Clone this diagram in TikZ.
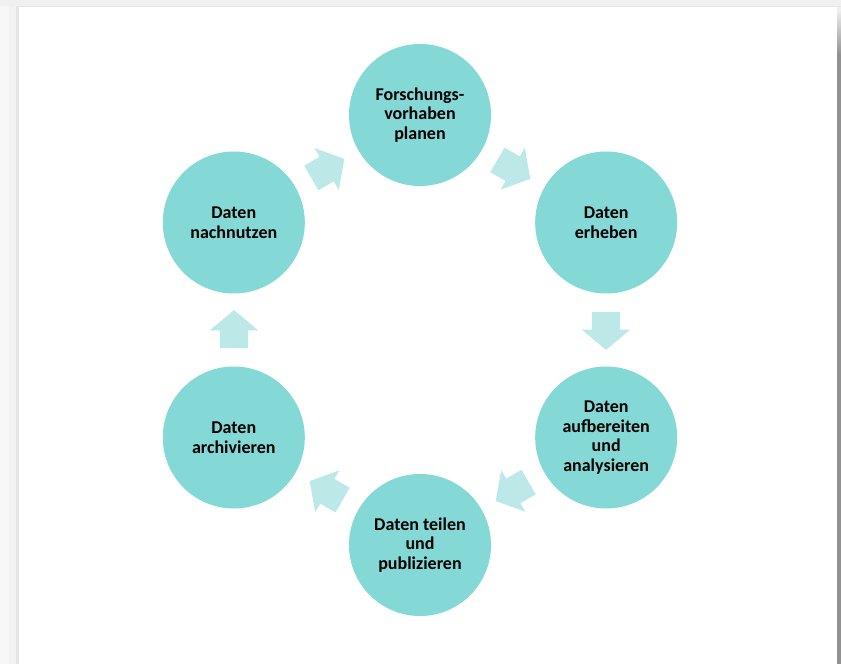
\documentclass[tikz,border=0pt]{standalone}
\usepackage{fontspec}
\setmainfont{Carlito}
\usetikzlibrary{shapes.arrows}
\definecolor{phasecol}{HTML}{84D8D5}
\definecolor{flowcol}{HTML}{BDE8E8}

\begin{document}
\begin{tikzpicture}[x=1pt,y=1pt,
  phase/.style={circle,fill=phasecol,minimum size=142pt,inner sep=0pt,align=center,
    font=\fontsize{18}{19.7}\selectfont\bfseries},
  flow/.style={single arrow,fill=flowcol,minimum height=38pt,inner xsep=0pt,inner ysep=14pt,
    single arrow head extend=10pt,single arrow tip angle=100}]
  % page with its shadow
  \useasboundingbox (-420,-334) rectangle (421,330);
  \fill[black!6] (-420,-334) rectangle (421,330);
  \fill[black!3] (-420,-334) rectangle (-411,324);
  \fill[black!5] (-411,-334) rectangle (-404,324);
  \fill[black!10] (-404,-334) rectangle (-401,324);
  \fill[black!10] (-401,324) rectangle (421,323);
  \fill[white] (-401,-334) rectangle (417,323);
  \shade[top color=black!8,bottom color=black!43] (417,318) rectangle (421,275);
  \fill[black!43] (417,275) rectangle (421,-334);

  % phases
  \node[phase] (plan) at (90:215) {Forschungs-\\vorhaben\\planen};
  \node[phase] (erheben) at (30:215) {Daten\\erheben};
  \node[phase] (aufbereiten) at (-30:215) {Daten\\aufbereiten\\und\\analysieren};
  \node[phase] (teilen) at (-90:215) {Daten teilen\\und\\publizieren};
  \node[phase] (archiv) at (-150:215) {Daten\\archivieren};
  \node[phase] (nachnutzen) at (150:215) {Daten\\nachnutzen};

  % block arrows between them
  \node[flow,rotate=-30,xshift=-5pt] (f1) at (60:186) {};
  \node[flow,rotate=-90,xshift=-5pt] (f2) at (0:186) {};
  \node[flow,rotate=-150,xshift=-5pt] (f3) at (-60:186) {};
  \node[flow,rotate=150,xshift=-5pt] (f4) at (-120:186) {};
  \node[flow,rotate=90,xshift=-5pt] (f5) at (180:186) {};
  \node[flow,rotate=30,xshift=-5pt] (f6) at (120:186) {};
\end{tikzpicture}
\end{document}
